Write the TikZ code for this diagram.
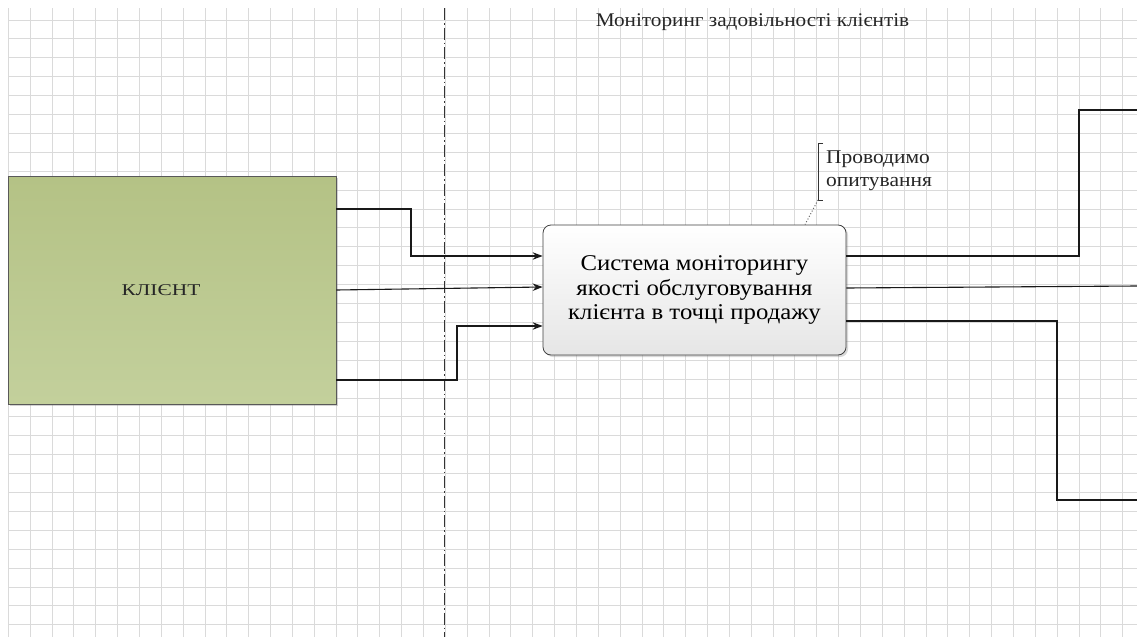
\documentclass[tikz,border=0pt]{standalone}
\usepackage{fontspec}
\setmainfont{Liberation Serif}[FakeStretch=1.1]
\newfontfamily\widefont{Liberation Serif}[FakeStretch=1.3]
\usepackage{xcolor}
\usetikzlibrary{positioning, arrows.meta, shadows, calc}

\definecolor{clientgreen}{HTML}{B4C285}
\definecolor{clientgreenlow}{HTML}{C3D09C}
\definecolor{gridgray}{HTML}{DADADA}

\begin{document}
\begin{tikzpicture}[
    x=1pt, y=-1pt,
    gridline/.style={gridgray, line width=0.9pt},
    clientbox/.style={draw=black!65, rectangle, minimum width=328pt, minimum height=228pt,
      top color=clientgreen, bottom color=clientgreenlow, line width=0.8pt,
      drop shadow={shadow xshift=1.5pt, shadow yshift=-1.5pt, opacity=0.35},
      font=\widefont\fontsize{16.5}{20}\selectfont, text=black!85},
    sysbox/.style={draw=black!75, rectangle, rounded corners=8pt, minimum width=303pt,
      minimum height=130pt, align=center, top color=white, bottom color=black!10,
      line width=0.8pt, drop shadow={shadow xshift=2pt, shadow yshift=-2pt, opacity=0.3},
      font=\fontsize{22.5}{24.5}\selectfont},
    notetext/.style={align=left, inner sep=0pt, font=\fontsize{19.5}{23}\selectfont, text=black!85},
    flow/.style={line width=1.1pt, black!90},
    arrow/.style={flow, -{Stealth[length=10pt, width=7.5pt]}}
]
\useasboundingbox (0,0) rectangle (1137,637);
\fill[white] (0,0) rectangle (1137,637);

\foreach \i in {0,...,51}
  \draw[gridline] ({8.3+21.85*\i},8) -- ({8.3+21.85*\i},637);
\foreach \j in {0,...,32}
  \draw[gridline] (8,{20+18.9*\j}) -- (1137,{20+18.9*\j});

\draw[line width=1pt, black!80, dash pattern=on 12pt off 3pt on 1.5pt off 3pt] (444,8) -- (444,637);

\node[clientbox] (client) at (172,290) {\hspace*{-22pt}КЛІЄНТ};
\node[sysbox] (system) at (694.5,290) {Система моніторингу\\якості обслуговування\\клієнта в точці продажу};

\node[font=\fontsize{19.3}{22}\selectfont, text=black!85] (title) at (752.5,22) {Моніторинг задовільності клієнтів};

\node[notetext, anchor=west] (note) at (826,171) {Проводимо\\опитування};
\draw[line width=0.9pt, black!80] ($(note.west)+(-3,-28)$) -- ++(-5,0) coordinate (brktop)
  -- ($(note.west)+(-8,29)$) coordinate (brk) -- ++(5,0);
\draw[dotted, line width=1pt, black!60] (brk) -- (system.north -| 805,0);

\draw[arrow] (client.east |- 0,209) -- (411,209) -- (411,256) -- (system.west |- 0,256);
\draw[arrow] (client.east |- 0,290) -- (system.west |- 0,287);
\draw[arrow] (client.east |- 0,380) -- (457,380) -- (457,326) -- (system.west |- 0,326);

\coordinate (outtop) at (1137,110);
\coordinate (outmid) at (1137,286);
\coordinate (outlow) at (1137,500);
\draw[flow] (system.east |- 0,256) -- (1079,256) -- (1079,110) -- (outtop);
\draw[flow] (system.east |- 0,288) -- (outmid);
\draw[flow] (system.east |- 0,321) -- (1057,321) -- (1057,500) -- (outlow);
\end{tikzpicture}
\end{document}
